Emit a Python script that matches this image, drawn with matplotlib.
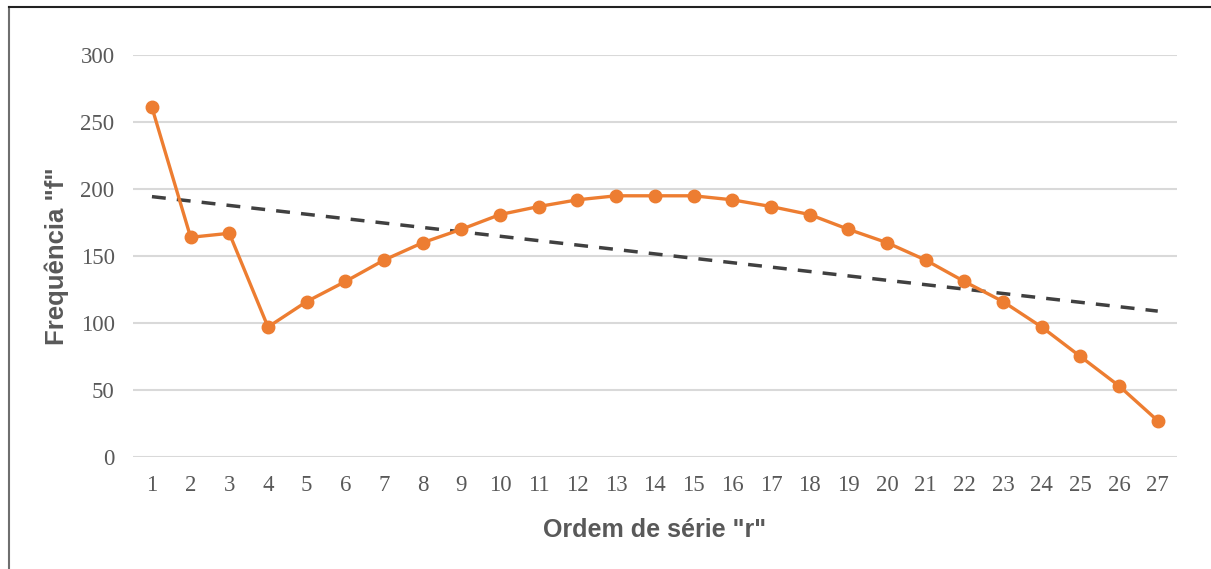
import numpy as np
import matplotlib.pyplot as plt
from matplotlib.lines import Line2D

# Series order r and observed frequency f
ordem = list(range(1, 28))
frequencia = [261, 164, 167, 97, 116, 131, 147, 160, 170, 181, 187, 192, 195,
              195, 195, 192, 187, 181, 170, 160, 147, 131, 116, 97, 75, 53, 27]
y_ticks = [0, 50, 100, 150, 200, 250, 300]

orange = '#ED7D31'
grey_text = '#595959'

fig = plt.figure(figsize=(12.11, 5.69), dpi=100)
ax = fig.add_axes([0.1095, 0.197, 0.8625, 0.706])

x = np.array(ordem)
y = np.array(frequencia)

# linear trend of the frequencies
coef = np.polyfit(x, y, 1)
ax.plot(x, np.polyval(coef, x), color='#404040', linewidth=2.5,
        linestyle=(0, (4, 3.2)), zorder=2)

ax.plot(x, y, color=orange, linewidth=2.4, marker='o', markersize=9,
        zorder=3)

ax.set_xlim(0.5, 27.5)
ax.set_ylim(0, 300)
ax.set_xticks(ordem)
ax.set_yticks(y_ticks)
ax.grid(axis='y', color='#D9D9D9', linewidth=1.5)
ax.set_axisbelow(True)
for s in ax.spines.values():
    s.set_visible(False)
ax.tick_params(length=0, labelcolor=grey_text, labelsize=16.5, pad=13)
ax.tick_params(axis='y', pad=13)
for lab in ax.get_xticklabels() + ax.get_yticklabels():
    lab.set_fontfamily('Liberation Serif')

ax.set_xlabel('Ordem de série "r"', fontsize=18, fontweight='bold',
              color=grey_text, family='Liberation Sans', labelpad=16)
ax.set_ylabel('Frequência "f"', fontsize=18.5, fontweight='bold',
              color=grey_text, family='Liberation Sans', labelpad=8)

# frame around the figure
fig.add_artist(Line2D([0.0075, 0.0075], [0, 0.988], transform=fig.transFigure,
                      color='#6f6f6f', linewidth=1.5))
fig.add_artist(Line2D([0.0075, 1.0], [0.988, 0.988], transform=fig.transFigure,
                      color='#222222', linewidth=1.5))

fig.savefig('out.png', dpi=100)
